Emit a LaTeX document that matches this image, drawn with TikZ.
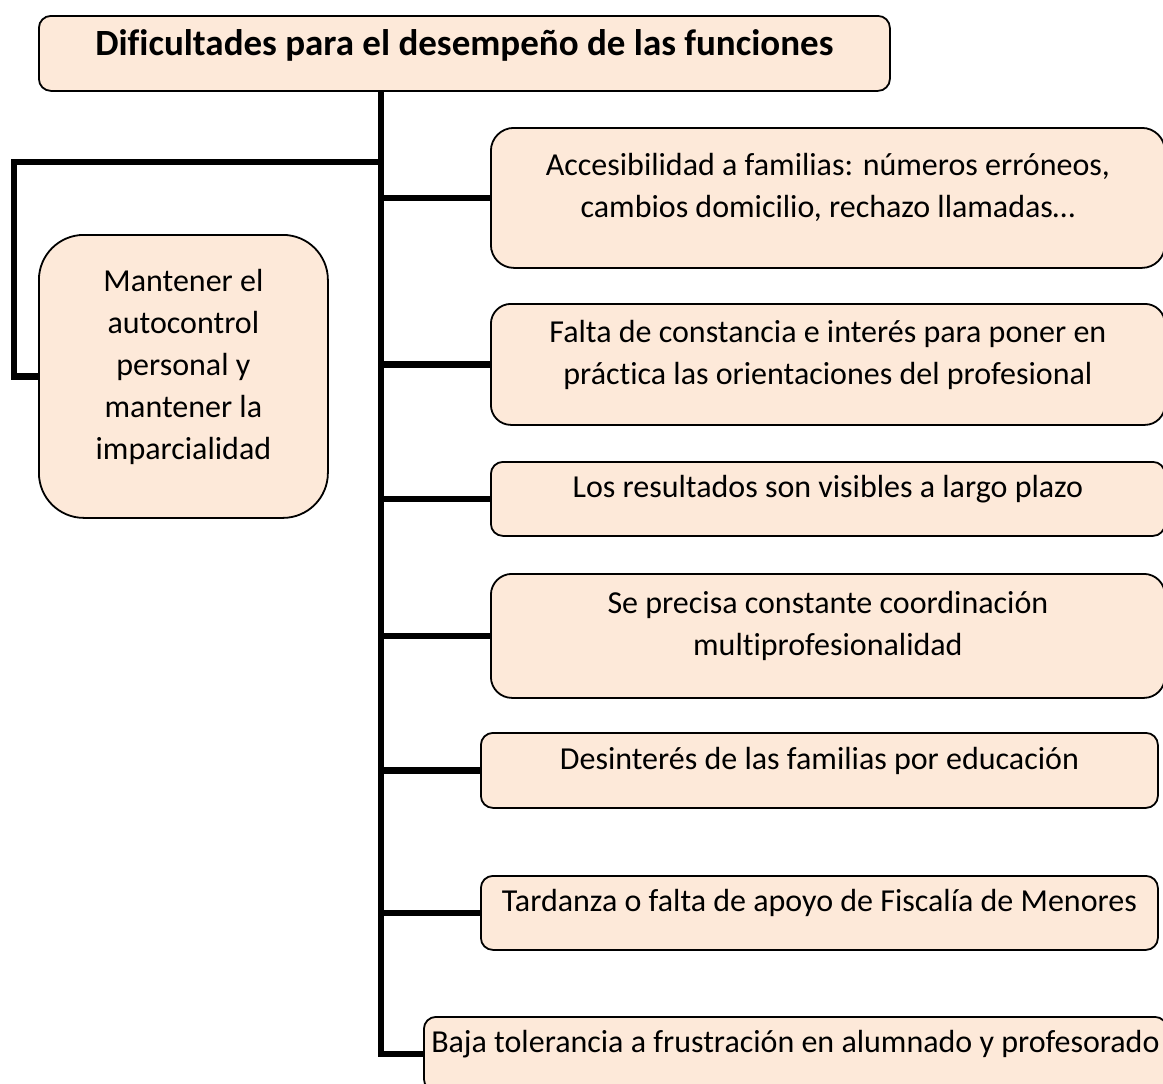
\documentclass[tikz,border=0pt]{standalone}
\usepackage{fontspec}
\setmainfont{Carlito}[Ligatures=CommonOff]
\usepackage{tikz}
\usetikzlibrary{positioning,calc}
\usepackage{xcolor}
\definecolor{peach}{HTML}{FDE9D9}
\newcommand\up{\rule{0pt}{27pt}}
\newcommand\dn{\rule[-29pt]{0pt}{29pt}}

\begin{document}
\begin{tikzpicture}[x=1pt,y=1pt,
  every node/.style={align=center,inner sep=0pt,anchor=north west,%
    font=\fontsize{32}{42}\selectfont,},%
  bx/.style={draw=black,line width=1.8pt,fill=peach,},%
  e/.style={line width=6.5pt,draw=black},%
  hd/.style={font=\fontsize{37}{44}\selectfont\bfseries,},%
  ]
  \useasboundingbox (0,0) rectangle (1163,-1084);

  \node (title) [bx,hd,rounded corners=12pt,minimum width=851pt,minimum height=75pt%
  ] at (38,-15) {\rule[-27pt]{0pt}{59pt}Dificultades para el desempeño de las funciones};

  \node (mind) [bx,rounded corners=45pt,minimum width=289pt,minimum height=283pt%
  ] at (38,-234) {\up Mantener el\\autocontrol\\personal y\\mantener la\\imparcialidad\dn};

  \node (acc) [bx,rounded corners=23pt,minimum width=674pt,minimum height=140pt%
  ] at (490,-127) {\up Accesibilidad a familias: números erróneos,\\cambios domicilio, rechazo llamadas…\dn};
  \node (fal) [bx,rounded corners=20pt,minimum width=674pt,minimum height=121pt%
  ] at (490,-303) {\up Falta de constancia e interés para poner en\\práctica las orientaciones del profesional\dn};
  \node (res) [bx,rounded corners=12pt,minimum width=674pt,minimum height=74pt%
  ] at (490,-461) {\up Los resultados son visibles a largo plazo\dn};
  \node (coo) [bx,rounded corners=21pt,minimum width=674pt,minimum height=124pt%
  ] at (490,-573) {\up Se precisa constante coordinación\\multiprofesionalidad\dn};
  \node (des) [bx,rounded corners=12pt,minimum width=677pt,minimum height=75pt%
  ] at (480,-732) {\up Desinterés de las familias por educación\dn};
  \node (tar) [bx,rounded corners=12pt,minimum width=677pt,minimum height=74pt%
  ] at (480,-875) {\up Tardanza o falta de apoyo de Fiscalía de Menores\dn};
  \node (baja) [bx,rounded corners=12pt,minimum width=743pt,minimum height=74pt%
  ] at (423,-1016) {\up Baja tolerancia a frustración en alumnado y profesorado\dn};

  \coordinate (fork) at (381,-162);
  \coordinate (bend) at (14,-162);

  \draw [e] (fork |- title.south) |- (baja.west);
  \draw [e] (fork) -- (bend) |- (mind.west);
  \foreach \n in {acc,fal,res,coo,des,tar}
    \draw [e] (fork |- \n.west) -- (\n.west);
\end{tikzpicture}
\end{document}
